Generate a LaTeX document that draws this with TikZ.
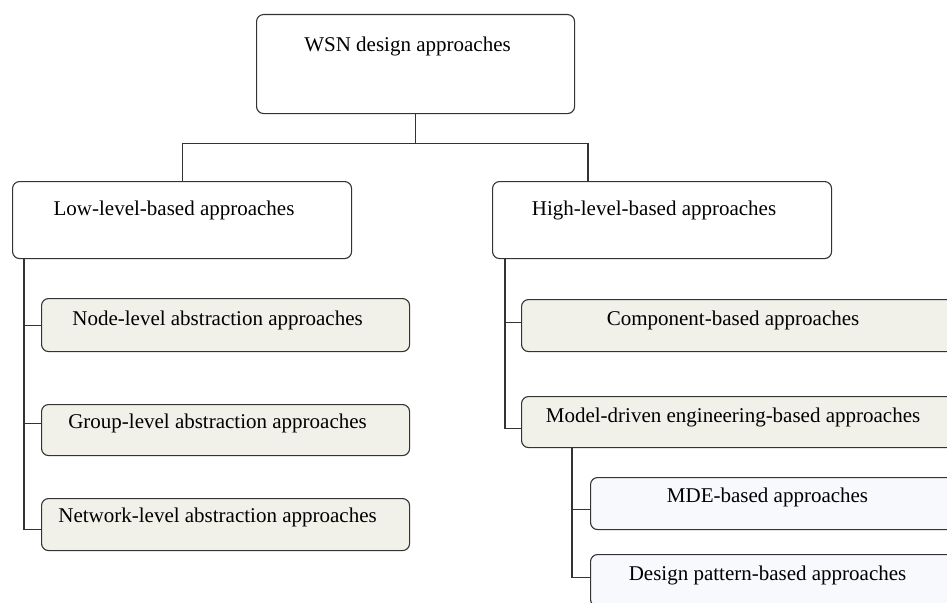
\documentclass[tikz,border=0pt]{standalone}
\usepackage{fontspec}
\setmainfont{Liberation Serif}
\usetikzlibrary{positioning, calc}
\definecolor{beige}{HTML}{F1F0E9}
\definecolor{paleblue}{HTML}{F8F9FC}
\definecolor{edgegray}{HTML}{333333}
\tikzset{
    box/.style args={#1 #2 #3}{
        draw=edgegray, line width=1.1pt, rounded corners=7pt,
        anchor=north west, inner sep=0pt,
        minimum width=#1, text height=#2, text depth=#3,
        font=\fontsize{21}{24}\selectfont,
        execute at end node={\hspace*{16pt}}
    },
    link/.style={draw=edgegray, line width=1.1pt}
}

\begin{document}
\begin{tikzpicture}[x=1pt, y=-1pt]
    \useasboundingbox (0,0) rectangle (947,602);
    \clip (0,0) rectangle (947,602);
    % root and first level
    \node[box={318pt 37pt 62pt}, fill=white] (wsn) at (256,14) {WSN design approaches};
    \node[box={339pt 34pt 43pt}, fill=white] (low) at (12,181) {Low-level-based approaches};
    \node[box={339pt 34pt 43pt}, fill=white] (high) at (492,181) {High-level-based approaches};
    % low level branch
    \node[box={368pt 27pt 26pt}, fill=beige] (nodelvl) at (41,298) {Node-level abstraction approaches};
    \node[box={368pt 24pt 27pt}, fill=beige] (grouplvl) at (41,404) {Group-level abstraction approaches};
    \node[box={368pt 24pt 28pt}, fill=beige] (netlvl) at (41,498) {Network-level abstraction approaches};
    % high level branch
    \node[box={439pt 26pt 26pt}, fill=beige] (comp) at (521,299) {Component-based approaches};
    \node[box={439pt 26pt 25pt}, fill=beige] (mde) at (521,396) {Model-driven engineering-based approaches};
    \node[box={370pt 25pt 27pt}, fill=paleblue] (mdeb) at (590,477) {MDE-based approaches};
    \node[box={370pt 26pt 26pt}, fill=paleblue] (pattern) at (590,554) {Design pattern-based approaches};
    % connectors
    \coordinate (split) at ([yshift=-29pt]wsn.south);
    \draw[link] (wsn.south) -- (split);
    \draw[link] (low.north) |- (split) -| ([xshift=96pt]high.north west);
    \coordinate (lowtrunk) at ([xshift=12pt]low.south west);
    \draw[link] (lowtrunk) |- ([yshift=-5pt]netlvl.west);
    \draw[link] (lowtrunk) |- (nodelvl.west);
    \draw[link] (lowtrunk) |- ([yshift=7pt]grouplvl.west);
    \coordinate (hightrunk) at ([xshift=13pt]high.south west);
    \draw[link] (hightrunk) |- ([yshift=-6pt]mde.west);
    \draw[link] (hightrunk) |- ([yshift=3pt]comp.west);
    \coordinate (mdetrunk) at ([xshift=51pt]mde.south west);
    \draw[link] (mdetrunk) |- ([yshift=3pt]pattern.west);
    \draw[link] (mdetrunk) |- ([yshift=-6pt]mdeb.west);
\end{tikzpicture}
\end{document}
